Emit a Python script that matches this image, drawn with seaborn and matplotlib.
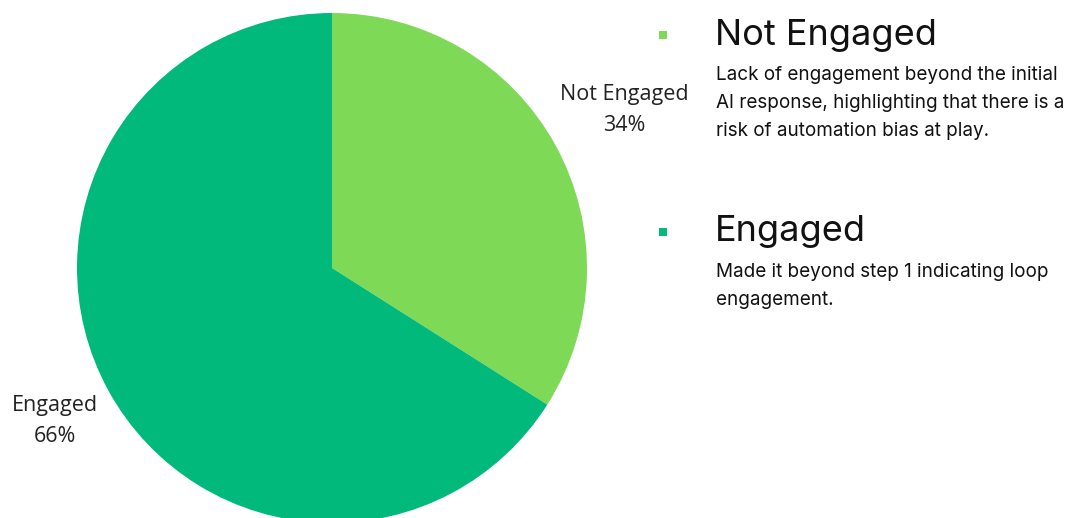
import matplotlib
matplotlib.use("Agg")
import matplotlib.pyplot as plt
import seaborn as sns
from matplotlib.patches import Rectangle

sns.set_theme(style="white")
plt.rcParams['font.family'] = ['Open Sans', 'DejaVu Sans']

categories = ["Not Engaged", "Engaged"]
values = [34, 66]
colors = ["#7ED957", "#00B97A"]
descriptions = [
    "Lack of engagement beyond the initial\nAI response, highlighting that there is a\nrisk of automation bias at play.",
    "Made it beyond step 1 indicating loop\nengagement.",
]

W, H = 1080, 518
fig = plt.figure(figsize=(W / 100, H / 100), dpi=100)
fig.patch.set_facecolor("white")

# pie axes: circle centre (332, 268) px, radius 255 px
cx, cy, r = 332, 268, 255
ax = fig.add_axes([(cx - r) / W, (H - cy - r) / H, 2 * r / W, 2 * r / H])
labels = [f"{c}\n{v}%" for c, v in zip(categories, values)]
wedges, texts = ax.pie(values, colors=colors, startangle=90, counterclock=False,
                       labels=labels, labeldistance=1.31, radius=1,
                       wedgeprops=dict(linewidth=0),
                       textprops=dict(ha="center", va="center", fontsize=15.5,
                                      color="#222222", linespacing=1.62))
# nudge labels slightly
x, y = texts[0].get_position()
texts[0].set_position((x, y - 0.012))
x, y = texts[1].get_position()
texts[1].set_position((x + 0.06, y + 0.03))
ax.set_xlim(-1, 1)
ax.set_ylim(-1, 1)
ax.set_aspect("equal")
ax.axis("off")

# legend-like annotations on the right
title_y = [35, 232]
desc_y = [73, 270]
for i, cat in enumerate(categories):
    sq = 8
    fig.patches.append(Rectangle(((663 - sq / 2) / W, (H - title_y[i] - sq / 2) / H),
                                 sq / W, sq / H, transform=fig.transFigure,
                                 facecolor=colors[i], edgecolor="none"))
    fig.text(715 / W, (H - title_y[i]) / H, cat, fontsize=26, color="#111111",
             ha="left", va="center", family=["Inter", "DejaVu Sans"])
    fig.text(716 / W, (H - desc_y[i] + 7) / H, descriptions[i], fontsize=13.6,
             color="#111111", ha="left", va="top", linespacing=1.73,
             family=["Inter", "DejaVu Sans"])

fig.savefig("out.png", dpi=100, facecolor="white")
